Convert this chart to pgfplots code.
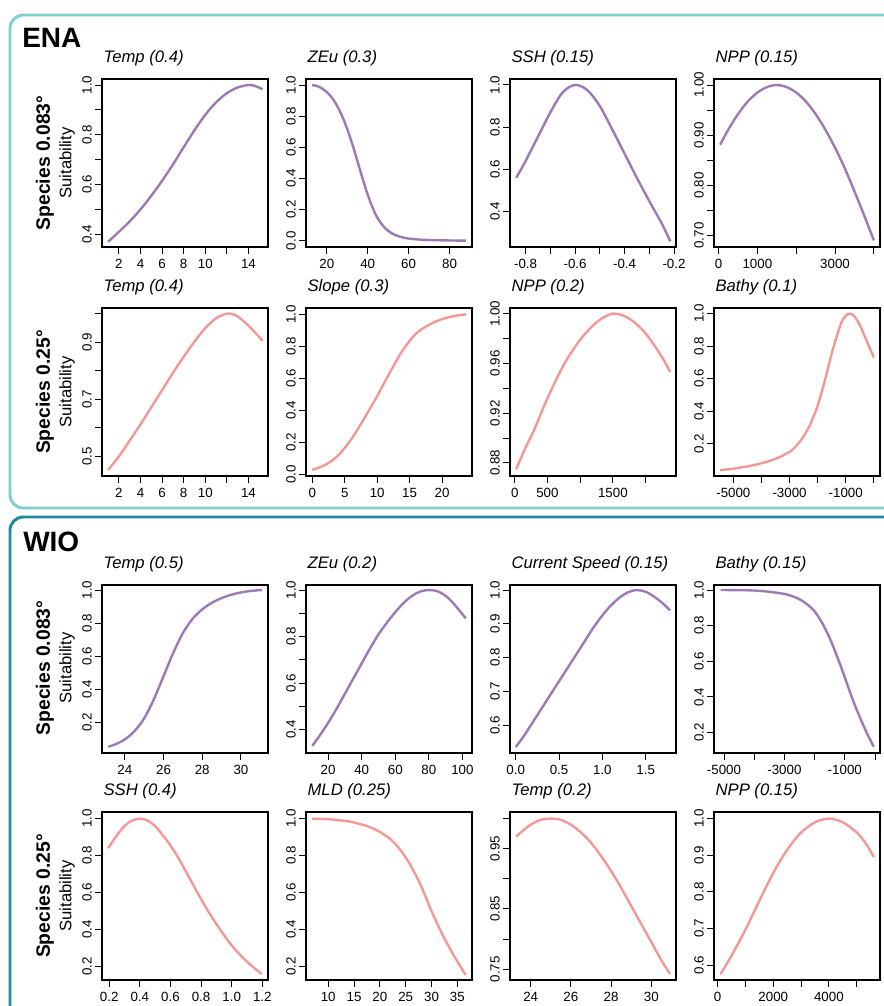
\documentclass[border=0pt]{standalone}
\usepackage{pgfplots}
\pgfplotsset{compat=1.18}
\usepackage{fontspec}
\setmainfont{Liberation Sans}
\definecolor{purp}{RGB}{155,122,182}
\definecolor{pinkc}{RGB}{242,152,152}
\definecolor{enab}{RGB}{126,208,204}
\definecolor{wiob}{RGB}{30,138,158}
\pgfplotsset{
 pan/.style={
   scale only axis, width=124.5pt, height=126pt, anchor=north west,
   axis line style={line width=0.9pt},
   every tick/.style={black, line width=0.7pt},
   tick align=outside, major tick length=5pt,
   xtick pos=bottom, ytick pos=left,
   scaled ticks=false,
   ticklabel style={font=\fontsize{10}{11}\selectfont},
   yticklabel style={rotate=90, anchor=south, inner sep=2.6pt, text height=7.2pt, text depth=0pt},
   xticklabel style={inner sep=3.6pt, text height=7.2pt, text depth=0pt},
   title style={at={(0,1)}, anchor=base west, yshift=6.5pt, xshift=1pt, inner sep=0pt, font=\itshape\fontsize{12.5}{14}\selectfont},
 },
 pu/.style={color=purp, line width=1.8pt, smooth, no marks},
 pk/.style={color=pinkc, line width=1.8pt, smooth, no marks},
}
\begin{document}
\begin{tikzpicture}
\begin{scope}[x=0.75pt,y=-0.75pt]
\begin{scope}
\clip (0,0) rectangle (884,1006);
\draw[enab, line width=2.2pt, rounded corners=10pt] (10,15) rectangle (920,508);
\draw[wiob, line width=2.2pt, rounded corners=10pt] (10,517) rectangle (920,1040);
\end{scope}
\node[anchor=base west, font=\bfseries\fontsize{21}{24}\selectfont, inner sep=0pt] at (22,48) {ENA};
\node[anchor=base west, font=\bfseries\fontsize{21}{24}\selectfont, inner sep=0pt] at (23,551) {WIO};
\node[rotate=90, font=\bfseries\fontsize{14.5}{16}\selectfont] at (45,163) {Species 0.083°};
\node[rotate=90, font=\fontsize{12.5}{14}\selectfont] at (67,163) {Suitability};
\node[rotate=90, font=\bfseries\fontsize{14.5}{16}\selectfont] at (45,392) {Species 0.25°};
\node[rotate=90, font=\fontsize{12.5}{14}\selectfont] at (67,392) {Suitability};
\node[rotate=90, font=\bfseries\fontsize{14.5}{16}\selectfont] at (45,668) {Species 0.083°};
\node[rotate=90, font=\fontsize{12.5}{14}\selectfont] at (67,668) {Suitability};
\node[rotate=90, font=\bfseries\fontsize{14.5}{16}\selectfont] at (45,896) {Species 0.25°};
\node[rotate=90, font=\fontsize{12.5}{14}\selectfont] at (67,896) {Suitability};
\end{scope}

% ---------- ENA row 1 ----------
\begin{axis}[pan, at={({102*0.75pt},{-79*0.75pt})}, title={Temp (0.4)},
  xmin=0.435, xmax=15.81, ymin=0.349, ymax=1.024,
  xtick={2,4,6,8,10,12,14}, xticklabels={2,4,6,8,10,,14},
  ytick={0.4,0.5,0.6,0.7,0.8,0.9,1.0}, yticklabels={0.4,,0.6,,0.8,,1.0}]
\addplot[pu] coordinates {(1,0.37) (2,0.41) (3,0.452) (4,0.50) (5,0.555) (6,0.615) (7,0.68) (8,0.75) (9,0.818) (10,0.88) (11,0.93) (12,0.967) (13,0.99) (14,1.0) (14.6,0.996) (15.3,0.983)};
\end{axis}
\begin{axis}[pan, at={({306*0.75pt},{-79*0.75pt})}, title={ZEu (0.3)},
  xmin=9.8, xmax=91.0, ymin=-0.04, ymax=1.039,
  xtick={20,40,60,80}, xticklabels={20,40,60,80},
  ytick={0,0.2,0.4,0.6,0.8,1.0}, yticklabels={0.0,0.2,0.4,0.6,0.8,1.0}]
\addplot[pu] coordinates {(12.8,1.0) (16,0.99) (20,0.955) (24,0.89) (28,0.785) (32,0.64) (36,0.465) (40,0.295) (44,0.165) (48,0.088) (52,0.046) (56,0.025) (60,0.014) (65,0.008) (70,0.005) (80,0.002) (88,0.001)};
\end{axis}
\begin{axis}[pan, at={({510*0.75pt},{-79*0.75pt})}, title={SSH (0.15)},
  xmin=-0.863, xmax=-0.192, ymin=0.233, ymax=1.028,
  xtick={-0.8,-0.7,-0.6,-0.5,-0.4,-0.3,-0.2}, xticklabels={-0.8,,-0.6,,-0.4,,-0.2},
  ytick={0.4,0.6,0.8,1.0}, yticklabels={0.4,0.6,0.8,1.0}]
\addplot[pu] coordinates {(-0.838,0.56) (-0.8,0.64) (-0.75,0.755) (-0.7,0.87) (-0.65,0.965) (-0.6,1.0) (-0.55,0.975) (-0.5,0.9) (-0.45,0.79) (-0.4,0.675) (-0.35,0.56) (-0.3,0.45) (-0.25,0.345) (-0.215,0.26)};
\end{axis}
\begin{axis}[pan, at={({714*0.75pt},{-79*0.75pt})}, title={NPP (0.15)},
  xmin=-118, xmax=4158, ymin=0.677, ymax=1.012,
  xtick={0,1000,2000,3000,4000}, xticklabels={0,1000,,3000,},
  ytick={0.70,0.75,0.80,0.85,0.90,0.95,1.00}, yticklabels={0.70,,0.80,,0.90,,1.00}]
\addplot[pu] coordinates {(40,0.881) (250,0.911) (500,0.942) (750,0.967) (1000,0.985) (1250,0.996) (1500,1.0) (1750,0.996) (2000,0.985) (2250,0.967) (2500,0.942) (2750,0.911) (3000,0.875) (3250,0.834) (3500,0.788) (3750,0.740) (4000,0.690)};
\end{axis}

% ---------- ENA row 2 ----------
\begin{axis}[pan, at={({102*0.75pt},{-308*0.75pt})}, title={Temp (0.4)},
  xmin=0.435, xmax=15.81, ymin=0.431, ymax=1.0196,
  xtick={2,4,6,8,10,12,14}, xticklabels={2,4,6,8,10,,14},
  ytick={0.5,0.6,0.7,0.8,0.9,1.0}, yticklabels={0.5,,0.7,,0.9,}]
\addplot[pk] coordinates {(1,0.452) (2,0.50) (3,0.555) (4,0.612) (5,0.672) (6,0.732) (7,0.792) (8,0.849) (9,0.902) (10,0.949) (11,0.984) (12,1.0) (12.5,0.998) (13,0.99) (14,0.958) (15.3,0.905)};
\end{axis}
\begin{axis}[pan, at={({306*0.75pt},{-308*0.75pt})}, title={Slope (0.3)},
  xmin=-0.96, xmax=24.6, ymin=-0.009, ymax=1.039,
  xtick={0,5,10,15,20}, xticklabels={0,5,10,15,20},
  ytick={0,0.2,0.4,0.6,0.8,1.0}, yticklabels={0.0,0.2,0.4,0.6,0.8,1.0}]
\addplot[pk] coordinates {(0,0.03) (2,0.06) (4,0.12) (6,0.22) (8,0.35) (10,0.49) (12,0.64) (14,0.78) (16,0.88) (18,0.935) (20,0.97) (22,0.99) (23.7,1.0)};
\end{axis}
\begin{axis}[pan, at={({510*0.75pt},{-308*0.75pt})}, title={NPP (0.2)},
  xmin=-72, xmax=2464, ymin=0.8695, ymax=1.0045,
  xtick={0,500,1000,1500,2000}, xticklabels={0,500,,1500,},
  ytick={0.88,0.90,0.92,0.94,0.96,0.98,1.00}, yticklabels={0.88,,0.92,,0.96,,1.00}]
\addplot[pk] coordinates {(22,0.875) (150,0.8905) (300,0.907) (500,0.932) (750,0.959) (1000,0.979) (1250,0.993) (1500,1.0) (1750,0.996) (2000,0.984) (2250,0.965) (2375,0.953)};
\end{axis}
\begin{axis}[pan, at={({714*0.75pt},{-308*0.75pt})}, title={Bathy (0.1)},
  xmin=-5689, xmax=219, ymin=0.0016, ymax=1.0345,
  xtick={-5000,-4000,-3000,-2000,-1000,0}, xticklabels={-5000,,-3000,,-1000,},
  ytick={0.2,0.4,0.6,0.8,1.0}, yticklabels={0.2,0.4,0.6,0.8,1.0}]
\addplot[pk] coordinates {(-5470,0.037) (-5000,0.047) (-4500,0.061) (-4000,0.08) (-3500,0.107) (-3000,0.15) (-2750,0.19) (-2500,0.245) (-2250,0.325) (-2000,0.435) (-1750,0.585) (-1500,0.755) (-1250,0.90) (-1100,0.965) (-950,0.995) (-850,1.0) (-700,0.985) (-500,0.93) (-300,0.85) (-100,0.77) (0,0.73)};
\end{axis}

% ---------- WIO row 1 ----------
\begin{axis}[pan, at={({102*0.75pt},{-585*0.75pt})}, title={Temp (0.5)},
  xmin=22.82, xmax=31.4, ymin=0.016, ymax=1.03,
  xtick={24,26,28,30}, xticklabels={24,26,28,30},
  ytick={0.2,0.4,0.6,0.8,1.0}, yticklabels={0.2,0.4,0.6,0.8,1.0}]
\addplot[pu] coordinates {(23.15,0.054) (23.5,0.068) (24,0.098) (24.5,0.148) (25,0.225) (25.5,0.34) (26,0.48) (26.5,0.62) (27,0.74) (27.5,0.826) (28,0.883) (28.5,0.923) (29,0.951) (29.5,0.971) (30,0.985) (30.5,0.994) (31.08,1.0)};
\end{axis}
\begin{axis}[pan, at={({306*0.75pt},{-585*0.75pt})}, title={ZEu (0.2)},
  xmin=6.8, xmax=105.7, ymin=0.30, ymax=1.0216,
  xtick={20,40,60,80,100}, xticklabels={20,40,60,80,100},
  ytick={0.4,0.5,0.6,0.7,0.8,0.9,1.0}, yticklabels={0.4,,0.6,,0.8,,1.0}]
\addplot[pu] coordinates {(10.5,0.33) (15,0.375) (20,0.43) (25,0.49) (30,0.555) (35,0.62) (40,0.685) (45,0.75) (50,0.81) (55,0.86) (60,0.905) (65,0.945) (70,0.975) (75,0.994) (80,1.0) (85,0.995) (90,0.975) (95,0.94) (102,0.878)};
\end{axis}
\begin{axis}[pan, at={({510*0.75pt},{-585*0.75pt})}, title={Current Speed (0.15)},
  xmin=-0.066, xmax=1.85, ymin=0.5175, ymax=1.015,
  xtick={0,0.5,1.0,1.5}, xticklabels={0.0,0.5,1.0,1.5},
  ytick={0.6,0.7,0.8,0.9,1.0}, yticklabels={0.6,0.7,0.8,0.9,1.0}]
\addplot[pu] coordinates {(0,0.535) (0.1,0.57) (0.2,0.61) (0.3,0.65) (0.4,0.69) (0.5,0.73) (0.6,0.77) (0.7,0.81) (0.8,0.85) (0.9,0.89) (1.0,0.925) (1.1,0.955) (1.2,0.978) (1.3,0.994) (1.4,1.0) (1.5,0.995) (1.6,0.98) (1.7,0.96) (1.78,0.94)};
\end{axis}
\begin{axis}[pan, at={({714*0.75pt},{-585*0.75pt})}, title={Bathy (0.15)},
  xmin=-5331, xmax=166, ymin=0.085, ymax=1.028,
  xtick={-5000,-4000,-3000,-2000,-1000,0}, xticklabels={-5000,,-3000,,-1000,},
  ytick={0.2,0.4,0.6,0.8,1.0}, yticklabels={0.2,0.4,0.6,0.8,1.0}]
\addplot[pu] coordinates {(-5110,1.0) (-4500,0.999) (-4000,0.997) (-3500,0.99) (-3000,0.978) (-2750,0.966) (-2500,0.948) (-2250,0.92) (-2000,0.88) (-1750,0.815) (-1500,0.73) (-1250,0.625) (-1000,0.51) (-750,0.39) (-500,0.285) (-250,0.19) (-40,0.12)};
\end{axis}

% ---------- WIO row 2 ----------
\begin{axis}[pan, at={({102*0.75pt},{-812*0.75pt})}, title={SSH (0.4)},
  xmin=0.153, xmax=1.237, ymin=0.128, ymax=1.036,
  xtick={0.2,0.4,0.6,0.8,1.0,1.2}, xticklabels={0.2,0.4,0.6,0.8,1.0,1.2},
  ytick={0.2,0.4,0.6,0.8,1.0}, yticklabels={0.2,0.4,0.6,0.8,1.0}]
\addplot[pk] coordinates {(0.193,0.84) (0.25,0.91) (0.3,0.96) (0.35,0.99) (0.4,1.0) (0.45,0.99) (0.5,0.96) (0.55,0.91) (0.6,0.855) (0.65,0.79) (0.7,0.715) (0.75,0.64) (0.8,0.565) (0.85,0.495) (0.9,0.43) (0.95,0.37) (1.0,0.315) (1.05,0.268) (1.1,0.227) (1.15,0.191) (1.197,0.16)};
\end{axis}
\begin{axis}[pan, at={({306*0.75pt},{-812*0.75pt})}, title={MLD (0.25)},
  xmin=5.71, xmax=37.83, ymin=0.128, ymax=1.036,
  xtick={10,15,20,25,30,35}, xticklabels={10,15,20,25,30,35},
  ytick={0.2,0.4,0.6,0.8,1.0}, yticklabels={0.2,0.4,0.6,0.8,1.0}]
\addplot[pk] coordinates {(6.9,1.0) (10,0.997) (12,0.992) (14,0.985) (16,0.972) (18,0.955) (20,0.928) (22,0.89) (24,0.83) (26,0.745) (28,0.635) (30,0.5) (32,0.38) (34,0.275) (35,0.228) (36.6,0.155)};
\end{axis}
\begin{axis}[pan, at={({510*0.75pt},{-812*0.75pt})}, title={Temp (0.2)},
  xmin=22.97, xmax=31.23, ymin=0.732, ymax=1.011,
  xtick={24,26,28,30}, xticklabels={24,26,28,30},
  ytick={0.75,0.80,0.85,0.90,0.95,1.00}, yticklabels={0.75,,0.85,,0.95,}]
\addplot[pk] coordinates {(23.28,0.970) (23.5,0.977) (24,0.99) (24.5,0.998) (25,1.0) (25.5,0.998) (26,0.99) (26.5,0.977) (27,0.96) (27.5,0.938) (28,0.913) (28.5,0.885) (29,0.855) (29.5,0.825) (30,0.795) (30.5,0.765) (30.93,0.742)};
\end{axis}
\begin{axis}[pan, at={({714*0.75pt},{-812*0.75pt})}, title={NPP (0.15)},
  xmin=-133, xmax=5838, ymin=0.559, ymax=1.018,
  xtick={0,1000,2000,3000,4000,5000}, xticklabels={0,,2000,,4000,},
  ytick={0.6,0.7,0.8,0.9,1.0}, yticklabels={0.6,0.7,0.8,0.9,1.0}]
\addplot[pk] coordinates {(100,0.575) (500,0.626) (1000,0.697) (1500,0.776) (2000,0.852) (2500,0.915) (3000,0.962) (3500,0.99) (4000,1.0) (4500,0.99) (5000,0.962) (5300,0.935) (5617,0.895)};
\end{axis}

\pgfresetboundingbox
\path[use as bounding box] (0pt,0pt) rectangle (663pt,-754.5pt);
\end{tikzpicture}
\end{document}
